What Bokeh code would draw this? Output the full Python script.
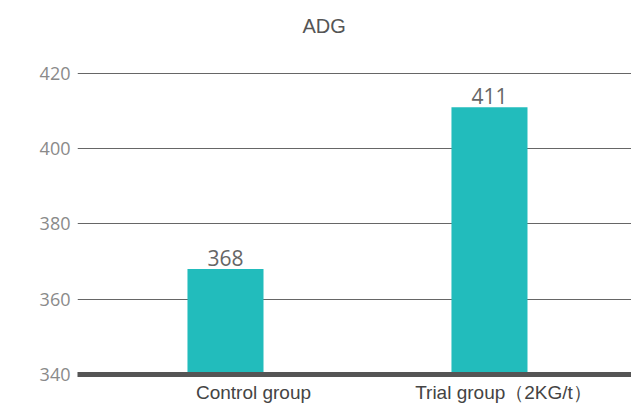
from bokeh.plotting import figure
from bokeh.models import (ColumnDataSource, Range1d, LinearAxis, FixedTicker, Title)
from bokeh.core.properties import value
from bokeh.embed import file_html
from bokeh.resources import INLINE

# Average daily gain per group
chart_title = "ADG"
categories = ["Control group", "Trial group（2KG/t）"]
adg_values = [368, 411]
y_ticks = [340, 360, 380, 400, 420]

xs = list(range(len(categories)))
source = ColumnDataSource(data=dict(
    x=xs,
    adg=adg_values,
    label=[str(v) for v in adg_values],
))

p = figure(
    width=631, height=405,
    output_backend="svg", toolbar_location=None,
    x_range=Range1d(-0.5606, 1.538),
    y_range=Range1d(340, 420.5),
    x_axis_location=None,
    min_border_left=77, min_border_right=0,
    min_border_top=71, min_border_bottom=31,
)
p.outline_line_color = None
p.background_fill_color = "white"
p.border_fill_color = "white"

# blank panel between the frame and the title, then the title itself
p.add_layout(Title(text=" ", standoff=11, text_font="Liberation Sans",
                   text_font_size="20px"), "above")
p.add_layout(Title(text=chart_title, align="left", offset=225, standoff=0,
                   text_font="Liberation Sans", text_font_size="20px",
                   text_font_style="normal", text_color="#555555"), "above")

# bars
p.vbar(x="x", top="adg", bottom=340, width=0.288, source=source,
       fill_color="#22BCBC", line_color=None)

# value labels above the bars
p.text(x="x", y="adg", text="label", source=source,
       text_align="center", text_baseline="alphabetic", y_offset=-11,
       text_font=value("Open Sans"), text_font_size="21px",
       text_color="#666666")

# y axis: labels only, gridlines across the frame
yax = p.yaxis[0]
yax.ticker = FixedTicker(ticks=y_ticks)
yax.axis_line_color = None
yax.major_tick_line_color = None
yax.minor_tick_line_color = None
yax.major_tick_out = 0
yax.major_label_standoff = 7
yax.major_label_text_font = "Open Sans"
yax.major_label_text_font_size = "18px"
yax.major_label_text_color = "#8a8a8a"

p.ygrid.ticker = FixedTicker(ticks=y_ticks)
p.ygrid.grid_line_color = "#666666"
p.ygrid.grid_line_width = 1
p.xgrid.grid_line_color = None

# category axis along the baseline
p.extra_x_ranges = {"labels": Range1d(-0.704, 1.512)}
xax = LinearAxis(x_range_name="labels",
                 ticker=FixedTicker(ticks=xs),
                 major_label_overrides={i: c for i, c in zip(xs, categories)})
xax.axis_line_color = "#555555"
xax.axis_line_width = 5
xax.major_tick_line_color = None
xax.minor_tick_line_color = None
xax.major_tick_out = 0
xax.major_label_standoff = 7
xax.major_label_text_font = "Liberation Sans"
xax.major_label_text_font_size = "19px"
xax.major_label_text_color = "#444444"
p.add_layout(xax, "below")

open("out.html", "w").write(file_html(p, INLINE))
